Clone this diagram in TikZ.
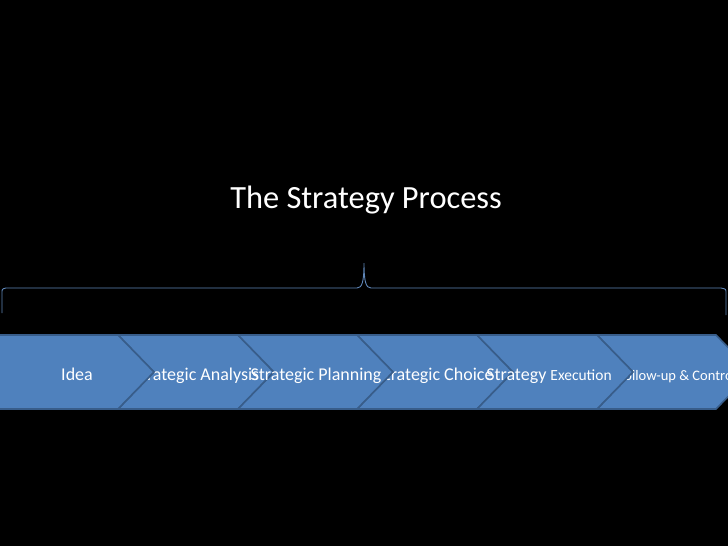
\documentclass[tikz,border=0pt]{standalone}
\usepackage{fontspec}
\setmainfont{Carlito}
\definecolor{chevblue}{HTML}{4F81BD}
\definecolor{chevedge}{HTML}{385D8A}
\definecolor{bracecol}{HTML}{5F86B8}
\tikzset{
  chev/.style={fill=chevblue, draw=chevedge, line width=1.6pt, line join=miter},
  lab/.style={text=white, anchor=base, inner sep=0pt, font=\fontsize{18}{20}\selectfont},
}
\begin{document}
\begin{tikzpicture}[x=1pt, y=-1pt]

\useasboundingbox (0, 0) rectangle (728, 546);
\clip (0, 0) rectangle (728, 546);
\fill[black] (0, 0) rectangle (728, 546);

% title and brace
\node[text=white, anchor=base, inner sep=0pt, font=\fontsize{32.4}{36}\selectfont] (title) at (366, 208) {The Strategy Process};
\draw[bracecol, line width=0.9pt] (2, 313) -- (2, 293) .. controls (2, 289) .. (6, 288) -- (357, 288) .. controls (362, 288) and (364, 282) .. (364, 263) .. controls (364, 282) and (366, 288) .. (371, 288) -- (721, 288) .. controls (726, 289) .. (726, 293) -- (726, 315);

% even steps
\draw[chev] (118, 335) -- (238, 335) -- (274, 372) -- (238, 409) -- (118, 409) -- (154, 372) -- cycle;
\node[lab] (analysis) at (196, 380) {Strategic Analysis};
\draw[chev] (357, 335) -- (477, 335) -- (513, 372) -- (477, 409) -- (357, 409) -- (393, 372) -- cycle;
\node[lab] (choice) at (435, 380) {Strategic Choice};
\draw[chev] (597, 335) -- (716, 335) -- (752, 372) -- (716, 409) -- (597, 409) -- (633, 372) -- cycle;
\node[lab, font=\fontsize{14.5}{16}\selectfont] (control) at (677, 380) {Follow-up \& Control};

% odd steps
\draw[chev] (-2, 335) -- (118, 335) -- (154, 372) -- (118, 409) -- (-2, 409) -- cycle;
\node[lab] (idea) at (77, 380) {Idea};
\draw[chev] (238, 335) -- (357, 335) -- (393, 372) -- (357, 409) -- (238, 409) -- (274, 372) -- cycle;
\node[lab] (planning) at (316, 380) {Strategic Planning};
\draw[chev] (477, 335) -- (597, 335) -- (633, 372) -- (597, 409) -- (477, 409) -- (513, 372) -- cycle;
\node[lab] (execution) at (549, 380) {Strategy {\fontsize{15.5}{17}\selectfont Execution}};

\end{tikzpicture}
\end{document}
